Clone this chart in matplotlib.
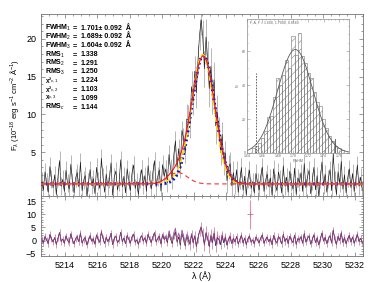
import numpy as np
import matplotlib
matplotlib.use('Agg')
import matplotlib.pyplot as plt
from matplotlib.ticker import MultipleLocator

plt.rcParams['font.family'] = ['Liberation Sans', 'DejaVu Sans']
plt.rcParams['mathtext.fontset'] = 'custom'
plt.rcParams['mathtext.rm'] = 'Liberation Sans'
plt.rcParams['mathtext.it'] = 'Liberation Sans:italic'
plt.rcParams['mathtext.bf'] = 'Liberation Sans:bold'
plt.rcParams['hatch.linewidth'] = 0.35

# ---------------- data ----------------
wave_start = 5212.55
wave_step = 0.1
noise = [
    0.4, -0.8, 1.6, 0.2, -1.1, 2.3, 0.7, -0.5, 1.2, -1.4, 0.9, 3.1, -0.3, 0.6, -1.0, 1.8, 0.1, -0.7, 2.6, 0.3,
    -1.2, 0.8, 1.5, -0.4, 2.9, -0.9, 0.5, 1.1, -1.6, 0.2, 1.9, -0.2, 0.7, -1.3, 2.2, 0.4, -0.6, 3.4, 0.9, -1.1,
    1.3, -0.3, 0.6, 2.8, -1.5, 0.9, 1.7, -0.8, 0.2, 3.2, -0.4, 1.0, -1.2, 2.0, 0.5, -0.9, 1.4, 2.5, -0.6, 0.3,
    -1.4, 0.7, 1.9, -0.2, 1.1, -1.0, 2.4, 0.6, -0.7, 1.5, 3.0, -0.5, 0.8, 1.6, -1.3, 2.1, 0.4, 1.2, -0.8, 2.7,
    0.5, -1.1, 1.8, 3.3, -0.6, 1.4, -1.8, 2.6, 0.9, -2.0, 1.5, 0.3, -1.4, 2.2, -0.9, 1.7, -2.3, 1.0, 3.6, 5.0,
    2.4, -1.6, 3.0, 0.8, -2.2, 1.9, -0.7, 2.8, -1.9, 1.2, 0.4, -1.5, 2.0, -0.8, 1.3, -1.7, 0.6, 1.5, -1.1, 0.9,
    -0.5, 1.6, -1.3, 0.4, 2.1, -0.9, 1.0, -1.5, 0.7, 1.8, -0.6, 0.3, -1.2, 1.4, 0.2, -0.8, 1.1, 2.2, -1.0, 0.5,
    1.3, -0.4, 0.8, -1.5, 2.0, 0.1, -0.9, 1.6, 0.6, -1.2, 2.4, -0.3, 0.9, -1.1, 1.7, 0.3, -0.7, 2.1, -1.4, 0.8,
    0.2, 1.5, -1.0, 2.7, -0.5, 0.9, 1.8, -1.3, 0.4, 2.2, -0.8, 1.1, -1.6, 0.6, 2.9, -0.2, 1.3, -1.1, 0.7, 1.9,
    -0.9, 4.0, 0.5, -1.4, 1.6, 0.1, 3.0, -0.7, 1.2, -1.2, 0.8, 2.0, -0.5, 1.4, -1.0, 0.6, 2.5, -0.3, 0.9, -0.8,
]
err_per_angstrom = [1.2, 1.2, 1.2, 1.2, 1.2, 1.2, 1.2, 1.2, 1.3, 2.0, 2.4, 1.6, 1.2, 1.2, 1.2, 1.2, 1.2, 1.2, 1.2, 1.2]

continuum = 0.8
fit_centers = [5222.58, 5222.58, 5222.56]
fit_amps = [16.9, 17.0, 16.6]
fit_sigmas = [0.722, 0.717, 0.681]
broad_centers = [5221.0, 5221.0, 5221.6]
broad_amps = [1.5, 0.0, 0.9]
broad_sigmas = [0.6, 0.6, 0.9]

outlier_wave = [5225.5]
outlier_resid = [10.0]
outlier_err = [5.5]

text_labels = [r'FWHM$_1$', r'FWHM$_2$', r'FWHM$_3$', r'RMS$_1$', r'RMS$_2$', r'RMS$_3$',
               'χ²$_{\\nu,1}$', 'χ²$_{\\nu,2}$', 'χ$_{\\nu,3}$', r'RMS$_c$']
text_values = ['1.701± 0.092  Å', '1.689± 0.092  Å', '1.604± 0.092  Å',
               '1.338', '1.291', '1.250', '1.224', '1.103', '1.099', '1.144']

hist_centers = [1.648, 1.652, 1.656, 1.660, 1.664, 1.668, 1.672, 1.676, 1.680, 1.684,
                1.688, 1.692, 1.696, 1.700, 1.704, 1.708, 1.712, 1.716, 1.720, 1.724,
                1.728, 1.732, 1.736, 1.740, 1.744, 1.748, 1.752, 1.756, 1.760, 1.764]
hist_counts = [3, 4, 6, 9, 13, 21, 22, 33, 44, 40, 46, 55, 50, 69, 58, 71, 57, 53, 47, 44,
               36, 30, 28, 20, 15, 10, 7, 4, 3, 2]
hist_fit = [61.0, 1.703, 0.023]

# ---------------- derived ----------------
noise = np.array(noise)
wave = wave_start + wave_step * np.arange(len(noise))
err = np.repeat(err_per_angstrom, 10)[:len(noise)]


def gauss(x, c, a, s):
    return a * np.exp(-0.5 * ((x - c) / s) ** 2)


def model(x, k):
    return (continuum + gauss(x, fit_centers[k], fit_amps[k], fit_sigmas[k])
            + gauss(x, broad_centers[k], broad_amps[k], broad_sigmas[k]))


flux = model(wave, 0) + noise
xf = np.linspace(5212.5, 5232.5, 1000)

W, H = 376, 282
fig = plt.figure(figsize=(W / 100, H / 100), dpi=100)


def fx(px):
    return px / W


def fy(py):
    return 1 - py / H


ax = fig.add_axes([fx(41), fy(196), fx(363) - fx(41), fy(14) - fy(196)])
ax2 = fig.add_axes([fx(41), fy(256), fx(363) - fx(41), fy(196) - fy(256)], sharex=ax)

spine_col = '0.45'
for a in (ax, ax2):
    for s in a.spines.values():
        s.set_color(spine_col)
        s.set_linewidth(0.6)
    a.tick_params(which='both', direction='in', top=True, right=True, color=spine_col,
                  labelsize=6.5, width=0.5)
    a.tick_params(which='major', length=3)
    a.tick_params(which='minor', length=1.6)
    a.xaxis.set_major_locator(MultipleLocator(2))
    a.xaxis.set_minor_locator(MultipleLocator(0.5))

ax.tick_params(labelbottom=False)
ax.set_xlim(5212.5, 5232.5)
ax.set_ylim(-0.8, 23.3)
ax.yaxis.set_major_locator(MultipleLocator(5))
ax.yaxis.set_minor_locator(MultipleLocator(1))
ax.set_yticks([5, 10, 15, 20])

# data
ax.errorbar(wave, flux, yerr=err, fmt='none', ecolor='0.5', elinewidth=0.4, capsize=0, zorder=1)
ax.plot(wave, flux, color='0.1', lw=0.45, zorder=2)

# models
ax.plot(xf, model(xf, 1), color='#1010d0', lw=2.2, ls=(0, (0.6, 0.9)), zorder=3)
ax.plot(xf, model(xf, 2), color='#ffe600', lw=1.2, ls=(0, (3, 2)), zorder=4)
ax.plot(xf, model(xf, 0), color='#ff1010', lw=0.8, zorder=5)
ax.plot(xf, continuum + gauss(xf, broad_centers[0], broad_amps[0], broad_sigmas[0]),
        color='#ff3030', lw=0.8, ls=(0, (4, 3)), zorder=5)

ax.set_ylabel(r'F$_\lambda$ (10$^{-18}$ erg s$^{-1}$ cm$^{-2}$ Å$^{-1}$)', fontsize=5.5, labelpad=4)

# text block
for i, (lab, val) in enumerate(zip(text_labels, text_values)):
    y = fy(28 + i * 8.8)
    lsize = 4.4 if lab.startswith('χ') else 5.0
    fig.text(fx(45), y, lab, fontsize=lsize, fontweight='bold', va='center')
    fig.text(fx(73), y, '=', fontsize=5.2, fontweight='bold', va='center')
    fig.text(fx(81), y, val, fontsize=5.0, fontweight='bold', va='center')

# residual panel
ax2.set_ylim(-5.8, 16.9)
ax2.set_yticks([-5, 0, 5, 10, 15])
ax2.yaxis.set_minor_locator(MultipleLocator(1))
res_black = flux - model(wave, 0)
res_blue = flux - model(wave, 1)
res_yel = flux - model(wave, 2)
ax2.errorbar(wave, res_black, yerr=err, fmt='none', ecolor='0.65', elinewidth=0.4, capsize=0)
ax2.plot(wave, res_black, color='k', lw=0.4)
ax2.plot(wave, res_blue, color='#2030d0', lw=0.5, alpha=0.7)
ax2.plot(wave, res_yel, color='#ff4060', lw=0.5, alpha=0.5)
ax2.errorbar(wave, res_black, yerr=err, fmt='none', ecolor='#c03070', elinewidth=0.4, capsize=0, alpha=0.5)
ax2.errorbar(outlier_wave, outlier_resid, yerr=outlier_err, fmt='+', color='#d07090',
             ecolor='#e090b0', elinewidth=0.8, ms=4, mew=0.6)
ax2.set_xlabel('λ (Å)', fontsize=6.5, labelpad=1)

# inset
ai = fig.add_axes([fx(247), fy(153), fx(349) - fx(247), fy(19) - fy(153)])
ai.bar(hist_centers, hist_counts, width=0.004, fill=False, hatch='////', edgecolor='0.45', lw=0.4)
hx = np.linspace(1.64, 1.775, 300)
ai.plot(hx, gauss(hx, hist_fit[1], hist_fit[0], hist_fit[2]), color='0.35', lw=0.6)
ai.plot([1.652, 1.652], [0, 47], color='0.3', lw=0.6, ls=(0, (2, 1.5)))
ai.plot([1.755, 1.755], [0, 8], color='0.3', lw=0.6)
ai.set_xlim(1.64, 1.773)
ai.set_ylim(0, 79)
ai.set_xticks([1.64, 1.66, 1.68, 1.70, 1.72, 1.74, 1.76])
ai.set_yticks([0, 20, 40, 60])
ai.xaxis.set_minor_locator(MultipleLocator(0.005))
ai.yaxis.set_minor_locator(MultipleLocator(5))
for s in ai.spines.values():
    s.set_color('0.55')
    s.set_linewidth(0.5)
ai.tick_params(which='both', direction='in', top=True, right=True, color='0.55', labelsize=2.5,
               labelcolor='0.4', width=0.4, pad=1)
ai.tick_params(which='major', length=2)
ai.tick_params(which='minor', length=1)
ai.set_xlabel('FWHM', fontsize=2.5, color='0.4', labelpad=0.5)
ai.set_ylabel('N', fontsize=2.5, color='0.4', labelpad=1)
ai.text(0.03, 0.985, 'F, A, F = 1.600, 1.7000, 0.8160', transform=ai.transAxes, fontsize=2.5,
        color='0.4', va='top')

fig.savefig('out.png', dpi=100)
